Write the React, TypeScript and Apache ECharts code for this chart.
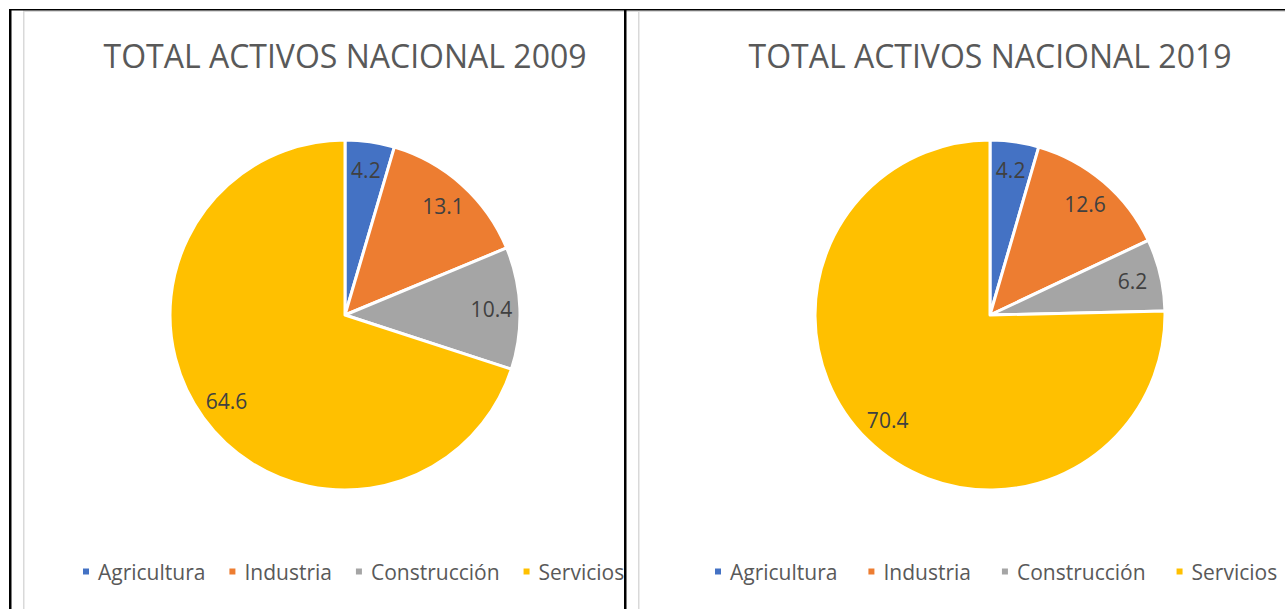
import React, { useEffect, useRef } from "react";
import * as echarts from "echarts";

const categories = ["Agricultura", "Industria", "Construcción", "Servicios"];
const values2009 = [4.2, 13.1, 10.4, 64.6];
const values2019 = [4.2, 12.6, 6.2, 70.4];
const titles = ["TOTAL ACTIVOS NACIONAL 2009", "TOTAL ACTIVOS NACIONAL 2019"];
const colors = ["#4472C4", "#ED7D31", "#A5A5A5", "#FFC000"];

const FONT = "'Open Sans', 'Noto Sans', sans-serif";

export default function App() {
  const ref = useRef<HTMLDivElement>(null);
  useEffect(() => {
    if (!ref.current) return;
    const chart = echarts.init(ref.current, undefined, { renderer: "svg" });
    const R = 175;
    const centers = [
      [345, 315],
      [990, 315],
    ];
    const datasets = [values2009, values2019];
    const series: any[] = [];
    datasets.forEach((vals, k) => {
      const data = categories.map((c, i) => ({ name: c, value: vals[i] }));
      series.push({
        type: "pie",
        center: centers[k],
        radius: [0, R],
        startAngle: 90,
        clockwise: true,
        silent: true,
        data,
        label: { show: false },
        labelLine: { show: false },
        itemStyle: { borderColor: "#ffffff", borderWidth: 3 },
        emphasis: { disabled: true },
      });
      series.push({
        type: "pie",
        center: centers[k],
        radius: [R * 0.64, R],
        startAngle: 90,
        clockwise: true,
        silent: true,
        data,
        itemStyle: { color: "rgba(0,0,0,0)", borderWidth: 0 },
        label: {
          show: true,
          position: "inside",
          formatter: (p: any) => String(p.value),
          color: "#404040",
          fontSize: 21,
          fontFamily: FONT,
        },
        labelLine: { show: false },
        emphasis: { disabled: true },
      });
    });
    const legendBase = {
      orient: "horizontal",
      top: 561,
      padding: 0,
      itemWidth: 8,
      itemHeight: 8,
      icon: "rect",
      selectedMode: false,
      data: categories,
      textStyle: {
        color: "#595959",
        fontSize: 21,
        fontFamily: FONT,
        padding: [0, 0, 0, 3],
      },
    };
    const line = (x: number, y: number, w: number, h: number, fill: string) => ({
      type: "rect",
      silent: true,
      shape: { x, y, width: w, height: h },
      style: { fill },
    });
    chart.setOption({
      animation: false,
      backgroundColor: "#ffffff",
      color: colors,
      legend: [
        { ...legendBase, left: 81, itemGap: 22 },
        { ...legendBase, left: 713, itemGap: 29 },
      ],
      series,
      graphic: [
        line(23, 10.5, 1262, 1.5, "#d9d9d9"),
        line(23, 10.5, 1.5, 600, "#d9d9d9"),
        line(638, 10.5, 1.5, 600, "#d9d9d9"),
        line(9, 9, 1276, 1.5, "#000000"),
        line(9, 9, 2.5, 600, "#000000"),
        line(624, 9, 2.5, 600, "#000000"),
        ...titles.map((t, k) => ({
          type: "text",
          silent: true,
          x: centers[k][0],
          y: 55,
          style: {
            text: t,
            fontSize: 32,
            fontFamily: FONT,
            fill: "#595959",
            textAlign: "center",
            textVerticalAlign: "middle",
            align: "center",
            verticalAlign: "middle",
          },
        })),
      ],
    });
    return () => chart.dispose();
  }, []);
  return (
    <div
      ref={ref}
      style={{ position: "absolute", left: 0, top: 0, width: 1285, height: 609, background: "#fff" }}
    />
  );
}
